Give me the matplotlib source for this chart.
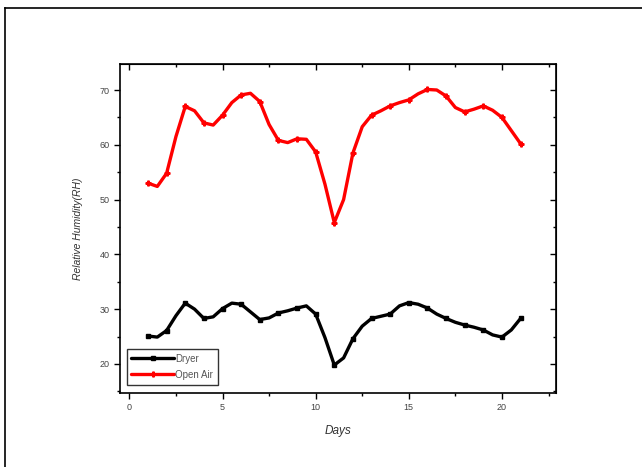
import matplotlib
matplotlib.use("Agg")
import matplotlib.pyplot as plt
from matplotlib.lines import Line2D
from matplotlib.ticker import MultipleLocator
import numpy as np

plt.rcParams['font.family'] = ['Liberation Sans', 'DejaVu Sans']

# readings every half day
days = np.arange(1, 21.5, 0.5)

dryer = [25.1, 24.9, 26.1, 28.8, 31.1, 30.0, 28.3, 28.6, 30.1, 31.1,
         30.9, 29.5, 28.1, 28.4, 29.3, 29.7, 30.2, 30.6, 29.1, 24.8,
         19.8, 21.1, 24.6, 26.9, 28.3, 28.7, 29.1, 30.6, 31.2, 30.9,
         30.2, 29.1, 28.3, 27.6, 27.1, 26.7, 26.2, 25.3, 24.9, 26.2,
         28.3]

open_air = [53.0, 52.4, 54.8, 61.5, 67.0, 66.2, 64.0, 63.6, 65.4, 67.7,
            69.1, 69.4, 67.9, 63.7, 60.8, 60.4, 61.1, 61.0, 58.7, 52.8,
            45.8, 50.0, 58.5, 63.3, 65.4, 66.2, 67.1, 67.7, 68.2, 69.3,
            70.1, 70.0, 68.9, 66.8, 66.0, 66.5, 67.1, 66.3, 65.0, 62.6,
            60.2]

series_labels = ['Dryer', 'Open Air']
x_label = 'Days'
y_label = 'Relative Humidity(RH)'

fig = plt.figure(figsize=(6.42, 4.67), dpi=100)
ax = fig.add_axes([0.187, 0.1585, 0.679, 0.7045])

line_kw = dict(lw=2.4, markevery=2, solid_joinstyle='round', solid_capstyle='round')
ax.plot(days, dryer, color='black', marker='s', ms=3, label=series_labels[0], **line_kw)
ax.plot(days, open_air, color='#ff0000', marker='P', ms=3.5, label=series_labels[1], **line_kw)

ax.set_xlim(-0.5, 22.9)
ax.set_ylim(14.7, 74.75)
ax.xaxis.set_major_locator(MultipleLocator(5))
ax.xaxis.set_minor_locator(MultipleLocator(2.5))
ax.yaxis.set_major_locator(MultipleLocator(10))
ax.yaxis.set_minor_locator(MultipleLocator(5))

for sp in ax.spines.values():
    sp.set_linewidth(1.2)

ax.tick_params(which='both', direction='out', width=1.0, labelsize=6.5,
               labelcolor='#444444', top=False, right=False)
ax.tick_params(which='major', length=4)
ax.tick_params(which='minor', length=2.5)

# mirrored inward ticks along the top and right edges
sec_x = ax.secondary_xaxis('top')
sec_x.xaxis.set_major_locator(MultipleLocator(5))
sec_x.xaxis.set_minor_locator(MultipleLocator(2.5))
sec_x.tick_params(which='both', direction='in', labeltop=False, width=1.0)
sec_x.tick_params(which='major', length=4)
sec_x.tick_params(which='minor', length=2.5)
sec_y = ax.secondary_yaxis('right')
sec_y.yaxis.set_major_locator(MultipleLocator(10))
sec_y.yaxis.set_minor_locator(MultipleLocator(5))
sec_y.tick_params(which='both', direction='in', labelright=False, width=1.0)
sec_y.tick_params(which='major', length=4)
sec_y.tick_params(which='minor', length=2.5)

ax.set_xlabel(x_label, fontsize=8.5, style='italic', color='#333333', labelpad=9)
ax.set_ylabel(y_label, fontsize=7.5, style='italic', color='#333333', labelpad=12)

leg = ax.legend(loc='lower left', bbox_to_anchor=(0.015, 0.025), fontsize=7,
                frameon=True, fancybox=False, edgecolor='black',
                handlelength=4.4, handletextpad=0.1, borderpad=0.5,
                labelspacing=0.65, borderaxespad=0)
leg.get_frame().set_linewidth(1.0)
for t in leg.get_texts():
    t.set_color('#555555')

# page border
fig.add_artist(Line2D([5 / 642, 5 / 642], [0, 1 - 8 / 467], color='black', lw=1.2))
fig.add_artist(Line2D([5 / 642, 1], [1 - 8 / 467, 1 - 8 / 467], color='black', lw=1.2))

fig.savefig('out.png', dpi=100)
